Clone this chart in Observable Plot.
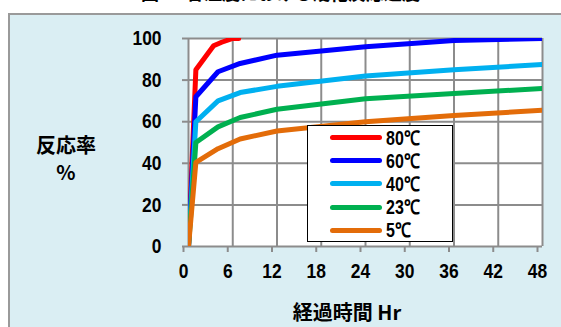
<!DOCTYPE html>
<html>
<head>
<meta charset="utf-8">
<script src="https://cdn.jsdelivr.net/npm/d3@7"></script>
<script src="https://cdn.jsdelivr.net/npm/@observablehq/plot@0.6"></script>
<style>
  html, body { margin: 0; padding: 0; background: #ffffff; }
  body { width: 561px; height: 327px; position: relative; overflow: hidden;
         font-family: "Liberation Sans", "Noto Sans CJK JP", sans-serif; }
  #title { position: absolute; left: 0; width: 561px; top: -21px; text-align: center;
           font: bold 18px "Noto Sans CJK JP", sans-serif; color: #000; }
  #panel { position: absolute; left: 8px; top: 13px; width: 600px; height: 400px;
           background: #DAEEF3; border: 2px solid #9a9a9a; }
  #chart { position: absolute; left: 0; top: 0; }
  .ylab { position: absolute; left: 26px; width: 80px; text-align: center;
          font: bold 20px/22px "Noto Sans CJK JP", sans-serif; color: #000; }
  #xlabel { position: absolute; left: 247px; top: 297px; width: 200px; text-align: center;
            font: bold 20px "Noto Sans CJK JP", sans-serif; color: #000; white-space: pre; }
  #legend { position: absolute; left: 307px; top: 125px; width: 146px; height: 117px;
            background: #fff; border: 1.5px solid #000; box-sizing: border-box; padding-top: 0px; }
  .item { display: flex; align-items: center; height: 23.2px; }
  .swatch { width: 52px; height: 5px; border-radius: 3px; margin-left: 22px; margin-right: 4px; }
  .lab { display: inline-block; font-weight: bold; font-size: 20px; line-height: 20px; color: #000;
         font-family: "Liberation Sans", sans-serif; transform: scaleX(0.8); transform-origin: left center;
         white-space: nowrap; }
</style>
</head>
<body>
<div id="title">図-1. 各温度における硬化反応速度</div>
<div id="panel"></div>
<div id="chart"></div>
<div class="ylab" style="top:134px">反応率</div>
<div class="ylab" style="top:161px">%</div>
<div id="xlabel">経過時間 Hr</div>
<div id="legend"></div>
<script>
// Series names and colours
const seriesNames = ["80℃", "60℃", "40℃", "23℃", "5℃"];
const seriesColors = ["#FF0000", "#0000FF", "#00B0F0", "#00B050", "#E36C09"];

// Elapsed time (hours) and reaction rate (%) for each temperature
const time80 = [0, 1, 3.4, 4.5, 6, 6.8];
const rate80 = [0, 85, 96.5, 98.2, 100, 100];
const timeOther = [0, 1, 4, 7, 12, 24, 36, 48];
const rate60 = [0, 72, 84, 88, 92, 96, 99, 100];
const rate40 = [0, 60, 70, 74, 77, 82, 85, 87.5];
const rate23 = [0, 50, 57.5, 62, 66, 71, 73.5, 76];
const rate5 = [0, 40.5, 47, 51.7, 55.5, 60, 63, 65.5];

// Axis ticks
const xTicks = [0, 6, 12, 18, 24, 30, 36, 42, 48];
const yTicks = [0, 20, 40, 60, 80, 100];

const seriesTimes = [time80, timeOther, timeOther, timeOther, timeOther];
const seriesRates = [rate80, rate60, rate40, rate23, rate5];

const rows = [];
seriesNames.forEach((name, i) => {
  seriesTimes[i].forEach((t, j) => rows.push({series: name, time: t, rate: seriesRates[i][j]}));
});

const gridColor = "#8c8c8c";
const tickFont = {fontSize: 21, fontWeight: "bold", fill: "#000"};

const chart = Plot.plot({
  width: 561,
  height: 327,
  marginLeft: 188,
  marginRight: 19,
  marginTop: 38,
  marginBottom: 81,
  style: {background: "transparent", fontFamily: "'Liberation Sans', sans-serif", overflow: "visible"},
  x: {domain: [0, 48]},
  y: {domain: [0, 100]},
  color: {domain: seriesNames, range: seriesColors},
  marks: [
    Plot.frame({fill: "white", stroke: null}),
    Plot.gridX(xTicks, {stroke: gridColor, strokeOpacity: 1, strokeWidth: 2}),
    Plot.gridY(yTicks, {stroke: gridColor, strokeOpacity: 1, strokeWidth: 2}),
    Plot.axisX(xTicks, {tickSize: 6, tickPadding: 11, stroke: gridColor, strokeWidth: 2, label: null, dx: -5, ...tickFont}),
    Plot.axisY(yTicks, {tickSize: 6, tickPadding: 21, stroke: gridColor, strokeWidth: 2, label: null, ...tickFont}),
    Plot.line(rows, {x: "time", y: "rate", z: "series", stroke: "series", strokeWidth: 5, clip: true})
  ]
});
document.getElementById("chart").appendChild(chart);

// Condensed look for the bold tick numbers
d3.select(chart).selectAll("g[aria-label$='tick label'] text").each(function () {
  const t = this.getAttribute("transform") || "";
  this.setAttribute("transform", t + " scale(0.83,1)");
});

// Legend box
const legend = document.getElementById("legend");
seriesNames.forEach((name, i) => {
  const item = document.createElement("div");
  item.className = "item";
  const sw = document.createElement("div");
  sw.className = "swatch";
  sw.style.background = seriesColors[i];
  const lab = document.createElement("span");
  lab.className = "lab";
  lab.textContent = name;
  item.appendChild(sw);
  item.appendChild(lab);
  legend.appendChild(item);
});
</script>
</body>
</html>
